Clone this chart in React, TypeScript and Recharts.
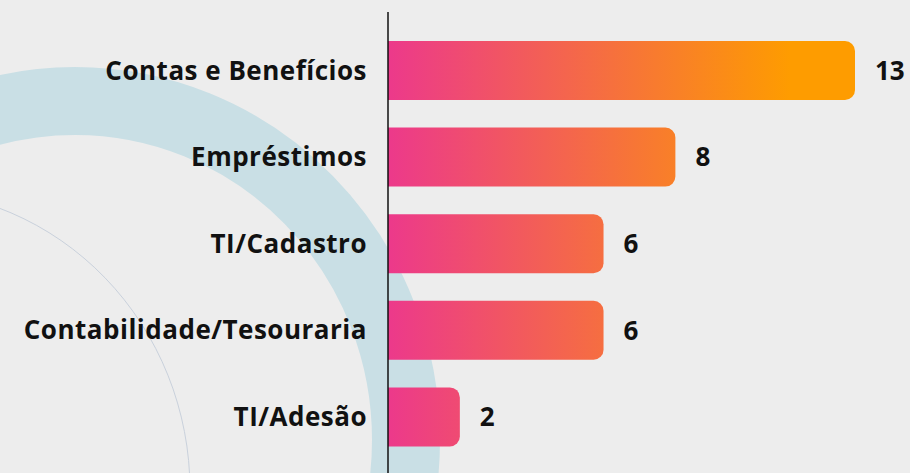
import React from 'react'
import { BarChart, Bar, XAxis, YAxis, LabelList } from 'recharts'

// categorias e valores
const categories = ['Contas e Benefícios', 'Empréstimos', 'TI/Cadastro', 'Contabilidade/Tesouraria', 'TI/Adesão']
const values = [13, 8, 6, 6, 2]

const data = categories.map((name, i) => ({ name, value: values[i] }))

const FONT = '"Open Sans", Lato, sans-serif'

// arcos decorativos do fundo
function Background() {
  return (
    <svg width={910} height={473} style={{ position: 'absolute', left: 0, top: 0 }}>
      <ellipse cx={75} cy={440} rx={331} ry={339} fill="none" stroke="#c9dfe5" strokeWidth={68} />
      <ellipse cx={-100} cy={490} rx={290} ry={300} fill="none" stroke="#c9d1dc" strokeWidth={1} />
    </svg>
  )
}

export default function App() {
  return (
    <div
      style={{
        position: 'absolute',
        left: 0,
        top: 0,
        width: 910,
        height: 473,
        overflow: 'hidden',
        background: '#ededed',
      }}
    >
      <Background />
      <div style={{ position: 'absolute', left: 0, top: 0 }}>
        <BarChart
          width={910}
          height={500}
          data={data}
          layout="vertical"
          margin={{ top: 12, right: 55, bottom: 0, left: 0 }}
        >
          <defs>
            <linearGradient id="barGrad" gradientUnits="userSpaceOnUse" x1={388} y1={0} x2={790} y2={0}>
              <stop offset="0%" stopColor="#ec398b" />
              <stop offset="100%" stopColor="#fe9c00" />
            </linearGradient>
          </defs>
          <XAxis type="number" domain={[0, 13]} hide />
          <YAxis
            type="category"
            dataKey="name"
            width={388}
            padding={{ top: 15, bottom: 40 }}
            axisLine={{ stroke: '#111', strokeWidth: 1.5 }}
            tickLine={false}
            tickSize={0}
            tickMargin={21}
            interval={0}
            tick={{ fill: '#111', fontSize: 26, fontWeight: 700, fontFamily: FONT, letterSpacing: 0.5 }}
          />
          <Bar dataKey="value" fill="url(#barGrad)" barSize={59} radius={[0, 10, 10, 0]} isAnimationActive={false}>
            <LabelList
              dataKey="value"
              position="right"
              offset={20}
              fill="#111"
              style={{ fontSize: 26, fontWeight: 700, fontFamily: FONT }}
            />
          </Bar>
        </BarChart>
      </div>
    </div>
  )
}
